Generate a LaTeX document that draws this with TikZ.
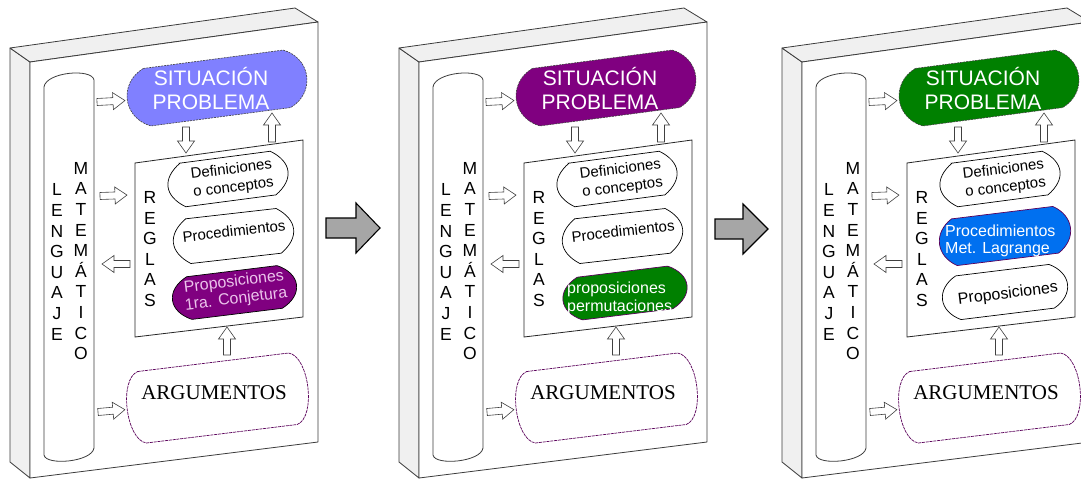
\documentclass[tikz,border=0pt]{standalone}
\usepackage{fontspec}
\setmainfont{Liberation Sans}
\newfontfamily\seriffont{Liberation Serif}
\usetikzlibrary{calc}

\definecolor{sitblue}{RGB}{128,128,255}
\definecolor{purp}{RGB}{128,0,128}
\definecolor{grn}{RGB}{0,128,0}
\definecolor{blu}{RGB}{0,112,240}
\definecolor{pinktxt}{RGB}{235,195,235}
\definecolor{facegray}{RGB}{240,240,240}
\definecolor{edgegray}{RGB}{60,60,60}
\definecolor{argline}{RGB}{90,0,90}
\definecolor{bigarrowfill}{RGB}{166,166,166}

\tikzset{
  board/.style={fill=facegray, draw=edgegray, line width=0.8pt, line join=round},
  boardfront/.style={fill=white, draw=edgegray, line width=0.8pt, line join=round},
  colbox/.style={fill=white, draw=edgegray, line width=0.8pt},
  rulebox/.style={fill=white, draw=black!85, line width=0.8pt},
  whiteshape/.style={fill=white, draw=black, line width=0.7pt},
  sitshape/.style={draw=black!75, line width=0.6pt, dash pattern=on 2pt off 1pt},
  argshape/.style={fill=white, draw=argline, line width=0.7pt, dash pattern=on 3pt off 0.8pt},
  arrowst/.style={fill=white, draw=black!75, line width=0.6pt, line join=miter},
  bigarrowst/.style={fill=bigarrowfill, draw=black, line width=1.1pt, line join=miter},
  letters/.style={font=\fontsize{17.5}{20.6}\selectfont, align=center, inner sep=0pt},
  sittext/.style={font=\fontsize{21}{24}\selectfont, text=white, align=center, inner sep=0pt},
  smalltext/.style={font=\fontsize{15}{18}\selectfont, align=center, inner sep=0pt},
  midtext/.style={font=\fontsize{16}{17.5}\selectfont, inner sep=0pt},
  argtext/.style={font=\seriffont\fontsize{21}{24}\selectfont, inner sep=0pt}
}

% #1 style, #2 cx, #3 cy, #4 w, #5 h, #6 corner inset, #7 angle, #8 bulge factor
\newcommand{\dshape}[8]{%
  \begin{scope}[shift={(#2,#3)},rotate=#7]
    \path[#1] ({-#4/2+#6},{-#5/2}) -- ({#4/2-#6},{-#5/2})
      .. controls ({#4/2+0.333*#6},{-#8*#5/2}) and ({#4/2+0.333*#6},{#8*#5/2}) .. ({#4/2-#6},{#5/2})
      -- ({-#4/2+#6},{#5/2})
      .. controls ({-#4/2-0.333*#6},{#8*#5/2}) and ({-#4/2-0.333*#6},{-#8*#5/2}) .. cycle;
  \end{scope}}

% block arrow: #1 x tail, #2 y tail, #3 angle, #4 length
\newcommand{\barrow}[4]{%
  \begin{scope}[shift={(#1,#2)},rotate=#3]
    \path[arrowst] (0,-3.5) -- ({#4-12},-3.5) -- ({#4-12},-8.5) -- (#4,0)
      -- ({#4-12},8.5) -- ({#4-12},3.5) -- (0,3.5) -- cycle;
  \end{scope}}

% #1 offset, #2 situation fill, #3 prefix
\newcommand{\panelbase}[3]{%
\begin{scope}[shift={(#1,0)}]
  \path[board] (10,48) -- (30,62) -- (30,478) -- (10,462) -- cycle;
  \path[board] (10,48) -- (295,8) -- (318,22) -- (30,62) -- cycle;
  \path[boardfront] (30,62) -- (318,22) -- (318,442) -- (30,478) -- cycle;
  \path[colbox] (44,455) -- (44,87) .. controls (46,72) and (92,68) .. (94,80)
     -- (94,448) .. controls (92,462) and (46,466) .. (44,455) -- cycle;
  \node[letters] (#3-len) at (57,262) {L\\E\\N\\G\\U\\A\\J\\E};
  \node[letters] (#3-mat) at (81,261) {M\\A\\T\\E\\M\\Á\\T\\I\\C\\O};
  \path[rulebox] (135,163) -- (303,140) -- (303,317) -- (135,337) -- cycle;
  \node[letters] (#3-reg) at (150,249) {R\\E\\G\\L\\A\\S};
  \dshape{sitshape,fill=#2}{217}{88}{181}{58}{20}{7.5}{0.6}
  \node[sittext] (#3-sit) at (211,88) {SITUACIÓN\\PROBLEMA};
  \dshape{whiteshape}{228}{179}{121}{44}{15}{7.5}{0.4}
  \node[smalltext, rotate=7] (#3-def) at (232.5,179) {Definiciones\\o conceptos};
  \dshape{argshape}{217.5}{398}{182}{72}{15}{7}{0.85}
  \node[argtext] (#3-arg) at (214,393) {ARGUMENTOS};
  \barrow{97}{102}{3}{28}
  \barrow{100}{196}{2}{27}
  \barrow{130}{264}{180}{28}
  \barrow{98}{412}{5}{27}
  \barrow{186}{127}{-90}{26}
  \barrow{272}{142}{90}{29}
  \barrow{227}{355}{90}{28}
\end{scope}}

\begin{document}
\begin{tikzpicture}[x=1pt,y=-1pt]
\useasboundingbox (0,0) rectangle (1081,479);
\clip (0,0) rectangle (1081,479);

% ---- panel 1
\panelbase{0}{sitblue}{a}
\begin{scope}[shift={(0,0)}]
  \dshape{whiteshape}{233.5}{236}{121}{45}{15}{6.5}{0.4}
  \node[smalltext, rotate=6.5] (a-proc) at (234,231) {Procedimientos};
  \dshape{whiteshape,fill=purp}{234.5}{292.5}{125}{43}{17}{7}{0.5}
  \node[midtext, align=center, text=pinktxt, rotate=7] (a-prop) at (235,291) {Proposiciones\\1ra. Conjetura};
\end{scope}

% ---- panel 2
\panelbase{389}{purp}{b}
\begin{scope}[shift={(389,0)}]
  \dshape{whiteshape}{233.5}{236}{121}{45}{15}{6.5}{0.4}
  \node[smalltext, rotate=6.5] (b-proc) at (234,231) {Procedimientos};
  \dshape{whiteshape,fill=grn,draw=argline}{236}{293}{125}{43}{17}{7}{0.5}
  \node[midtext, align=left, text=white, anchor=west] (b-prop) at (178,298.5) {proposiciones\\permutaciones};
\end{scope}

% ---- panel 3
\panelbase{772}{grn}{c}
\begin{scope}[shift={(772,0)}]
  \dshape{whiteshape,fill=blu,draw=argline}{233}{236}{132}{47}{15}{7}{0.5}
  \node[midtext, align=left, text=white, anchor=west] (c-proc) at (173,241) {Procedimientos\\Met. Lagrange};
  \dshape{whiteshape}{233}{292}{126}{44}{16}{7}{0.5}
  \node[midtext, rotate=7] (c-prop) at (236,294) {Proposiciones};
\end{scope}

% ---- big arrows between panels
\path[bigarrowst] (326,218) -- (356,218) -- (356,203) -- (380,228) -- (356,253) -- (356,238) -- (326,238) -- cycle;
\path[bigarrowst] (715,219) -- (743,219) -- (743,204) -- (768,229) -- (743,254) -- (743,239) -- (715,239) -- cycle;
\end{tikzpicture}
\end{document}
